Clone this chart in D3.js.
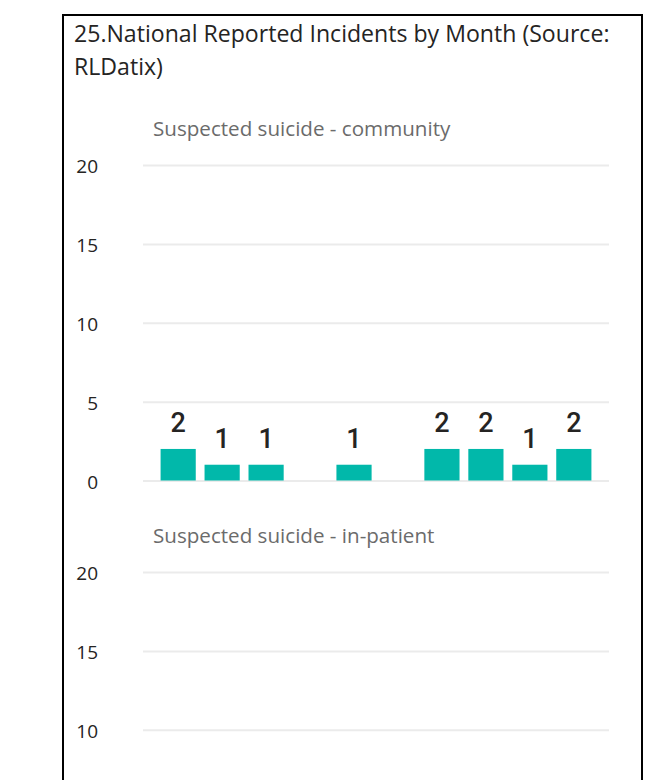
<!DOCTYPE html>
<html>
<head>
<meta charset="utf-8">
<script src="https://cdn.jsdelivr.net/npm/d3@7"></script>
<style>
  body { margin: 0; background: #fff; overflow: hidden; }
  svg { display: block; }
</style>
</head>
<body>
<svg></svg>
<script>
// values
let title = "25.National Reported Incidents by Month (Source: RLDatix)",
    months = ["Apr","May","Jun","Jul","Aug","Sep","Oct","Nov","Dec","Jan"],
    community = [2,1,1,null,1,null,2,2,1,2],
    // in-patient bars sit below the visible area, nothing can be read
    inpatient = [null,null,null,null,null,null,null,null,null,null],
    yTicks = [0,5,10,15,20];

let panels = [
  {name:"Suspected suicide - community", values:community},
  {name:"Suspected suicide - in-patient", values:inpatient}
];

let width = 661, height = 780,
    left = 143, right = 609, panelGap = 407,
    teal = "#01B8AA",
    svg = d3.select("svg").attr("width",width).attr("height",height),
    xScale = d3.scaleBand().domain(months).range([left,right]).paddingInner(0.2).paddingOuter(0.4);

// frame
svg.append("rect")
    .attr("x",63).attr("y",15)
    .attr("width",579).attr("height",height+20)
    .attr("fill","none").attr("stroke","#000").attr("stroke-width",2);

// title, wrapped
let titleText = svg.append("text")
    .attr("x",74).attr("y",42)
    .attr("font-family","'Open Sans'")
    .attr("font-size","23.1px")
    .attr("fill","#252423");
let words = title.split(" "), line = [],
    tspan = titleText.append("tspan").attr("x",74).attr("dy",0);
words.forEach(w=>{
  line.push(w);
  tspan.text(line.join(" "));
  if (tspan.node().getComputedTextLength() > 560 && line.length > 1) {
    line.pop();
    tspan.text(line.join(" "));
    line = [w];
    tspan = titleText.append("tspan").attr("x",74).attr("dy",32.6).text(w);
  }
});

panels.forEach((p,i)=>{
  let off = i*panelGap,
      yScale = d3.scaleLinear().domain([0,20]).range([480.5+off,165+off]),
      ticks = yTicks.filter(t=>yScale(t) < height-10),
      g = svg.append("g");

  g.append("text")
      .attr("x",153).attr("y",136+off)
      .text(p.name)
      .attr("font-family","'Open Sans'")
      .attr("font-size","20.6px")
      .attr("fill","#6b6b6b");

  let yAxis = d3.axisLeft(yScale).tickValues(ticks).tickSize(-(right-left)).tickPadding(45);
  g.append("g")
      .attr("transform",`translate(${left},0)`)
      .call(yAxis)
      .call(a=>a.select(".domain").remove())
      .call(a=>a.selectAll("line").attr("stroke","#ebebeb").attr("stroke-width",2))
      .call(a=>a.selectAll("text")
          .attr("font-family","'Open Sans'")
          .attr("font-size","19px")
          .attr("fill","#252423")
          .attr("dy","0.4em"));

  let data = months.map((m,j)=>({month:m, value:p.values[j]})).filter(d=>d.value!=null);

  g.selectAll("rect.bar")
    .data(data)
    .enter()
    .append("rect")
      .attr("class","bar")
      .attr("x",d=>xScale(d.month))
      .attr("y",d=>yScale(d.value))
      .attr("width",xScale.bandwidth())
      .attr("height",d=>yScale(0)-yScale(d.value))
      .attr("fill",teal);

  g.selectAll("text.lbl")
    .data(data)
    .enter()
    .append("text")
      .attr("class","lbl")
      .attr("x",d=>xScale(d.month)+xScale.bandwidth()/2)
      .attr("y",d=>yScale(d.value)-16.5)
      .text(d=>d.value)
      .style("text-anchor","middle")
      .attr("font-family","Roboto")
      .attr("font-size","27px")
      .attr("font-weight",500)
      .attr("fill","#252423");
});
</script>
</body>
</html>
